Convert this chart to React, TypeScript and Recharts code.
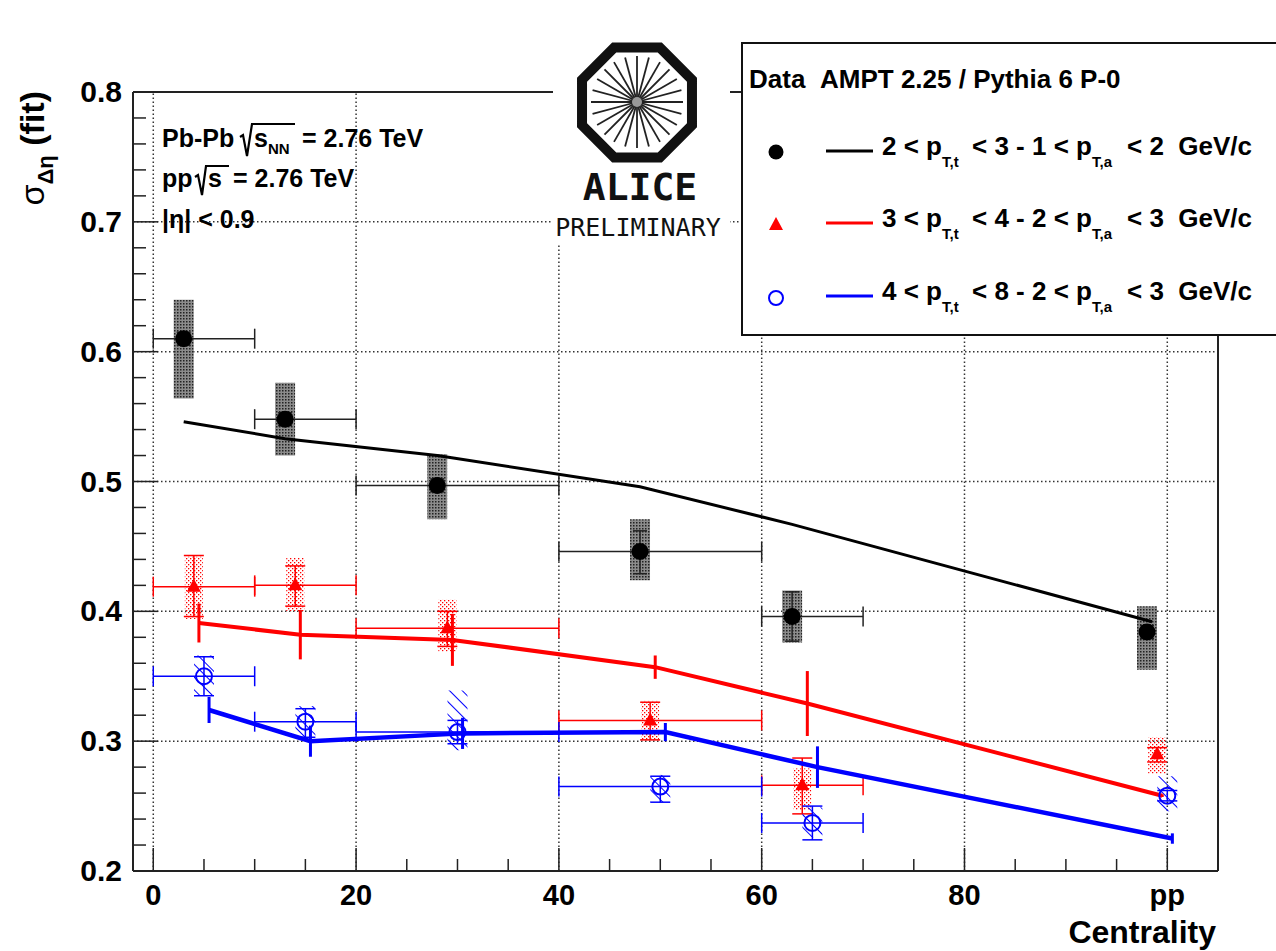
import React from 'react'
import { ComposedChart, Scatter, Line, XAxis, YAxis, ErrorBar, ReferenceLine } from 'recharts'

// centrality bins (pp has no bin)
const binLow = [0, 10, 20, 40, 60, null]
const binHigh = [10, 20, 40, 60, 70, null]

// data: 2 < pT,t < 3 - 1 < pT,a < 2 (black)
const blackX = [3, 13, 28, 48, 63, 98]
const blackY = [0.61, 0.548, 0.497, 0.446, 0.396, 0.384]
const blackStatLow = [0.605, 0.543, 0.492, 0.429, 0.377, 0.379]
const blackStatHigh = [0.615, 0.553, 0.502, 0.462, 0.415, 0.389]
const blackSysLow = [0.564, 0.52, 0.471, 0.424, 0.376, 0.355]
const blackSysHigh = [0.64, 0.576, 0.521, 0.471, 0.416, 0.404]

// data: 3 < pT,t < 4 - 2 < pT,a < 3 (red)
const redX = [4, 14, 29, 49, 64, 99]
const redY = [0.419, 0.42, 0.387, 0.316, 0.266, 0.29]
const redStatLow = [0.396, 0.404, 0.373, 0.301, 0.244, 0.284]
const redStatHigh = [0.443, 0.435, 0.4, 0.33, 0.287, 0.295]
const redSysLow = [0.394, 0.4, 0.369, 0.301, 0.247, 0.275]
const redSysHigh = [0.442, 0.441, 0.409, 0.331, 0.279, 0.303]

// data: 4 < pT,t < 8 - 2 < pT,a < 3 (blue)
const blueX = [5, 15, 30, 50, 65, 100]
const blueY = [0.35, 0.315, 0.307, 0.265, 0.237, 0.258]
const blueStatLow = [0.335, 0.303, 0.298, 0.253, 0.224, 0.254]
const blueStatHigh = [0.365, 0.325, 0.316, 0.273, 0.25, 0.262]
const blueSysLow = [0.335, 0.303, 0.293, 0.253, 0.226, 0.246]
const blueSysHigh = [0.366, 0.327, 0.339, 0.274, 0.249, 0.273]

// AMPT 2.25 / Pythia 6 P-0 model curves
const ampBlackX = [3, 13, 28, 48, 63, 98.5]
const ampBlackY = [0.546, 0.533, 0.52, 0.496, 0.467, 0.392]
const ampRedX = [4.5, 14.5, 29.5, 49.5, 64.5, 99.5]
const ampRedY = [0.391, 0.382, 0.378, 0.357, 0.329, 0.258]
const ampRedErr = [0.015, 0.019, 0.02, 0.009, 0.025, 0.001]
const ampBlueX = [5.5, 15.5, 30.5, 50.5, 65.5, 100.5]
const ampBlueY = [0.324, 0.3, 0.306, 0.307, 0.28, 0.225]
const ampBlueErr = [0.01, 0.012, 0.012, 0.007, 0.016, 0.004]

// axes
const xMajor = [0, 20, 40, 60, 80, 100]
const xLabels = ['0', '20', '40', '60', '80', 'pp']
const yMajor = [0.2, 0.3, 0.4, 0.5, 0.6, 0.7, 0.8]
const yLabels = ['0.2', '0.3', '0.4', '0.5', '0.6', '0.7', '0.8']
const yGrid = [0.3, 0.4, 0.5, 0.6, 0.7]

const xTicks: number[] = []
for (let v = 0; v <= 100; v += 5) xTicks.push(v)
const yTicks: number[] = []
for (let i = 0; i <= 30; i++) yTicks.push(Math.round((0.2 + i * 0.02) * 1000) / 1000)

const W = 1276
const H = 951
const FONT = '"Liberation Sans", Arial, Helvetica, sans-serif'
const MONO = '"DejaVu Sans Mono", monospace'
const RED = '#ff0000'
const BLUE = '#0000ff'

function makeRows(xs: number[], ys: number[], sLo: number[], sHi: number[], sysLo: number[], sysHi: number[]) {
  return xs.map((x, i) => ({
    x,
    y: ys[i],
    bin: binLow[i] == null ? null : [x - (binLow[i] as number), (binHigh[i] as number) - x],
    stat: [ys[i] - sLo[i], sHi[i] - ys[i]],
    sys: [ys[i] - sysLo[i], sysHi[i] - ys[i]],
  }))
}

const blackRows = makeRows(blackX, blackY, blackStatLow, blackStatHigh, blackSysLow, blackSysHigh)
const redRows = makeRows(redX, redY, redStatLow, redStatHigh, redSysLow, redSysHigh)
const blueRows = makeRows(blueX, blueY, blueStatLow, blueStatHigh, blueSysLow, blueSysHigh)

const ampBlack = ampBlackX.map((x, i) => ({ x, y: ampBlackY[i] }))
const ampRed = ampRedX.map((x, i) => ({ x, y: ampRedY[i], err: ampRedErr[i] }))
const ampBlue = ampBlueX.map((x, i) => ({ x, y: ampBlueY[i], err: ampBlueErr[i] }))

function XTick(props: any) {
  const { x, y, payload } = props
  const idx = xMajor.indexOf(payload.value)
  const major = idx >= 0
  return (
    <g>
      <line x1={x} x2={x} y1={y} y2={y - (major ? 23 : 12)} stroke="#222" strokeWidth={1.5} />
      {major && (
        <text x={x} y={y + 34} textAnchor="middle" fontFamily={FONT} fontWeight="bold" fontSize={29} fill="#000">
          {xLabels[idx]}
        </text>
      )}
    </g>
  )
}

function YTick(props: any) {
  const { x, y, payload } = props
  const idx = yMajor.findIndex((m) => Math.abs(m - payload.value) < 1e-6)
  const major = idx >= 0
  return (
    <g>
      <line x1={x} x2={x + (major ? 25 : 13)} y1={y} y2={y} stroke="#222" strokeWidth={1.5} />
      {major && (
        <text x={x - 11} y={y + 10} textAnchor="end" fontFamily={FONT} fontWeight="bold" fontSize={30} fill="#000">
          {yLabels[idx]}
        </text>
      )}
    </g>
  )
}

const dotBlack = (p: any) => <circle cx={p.cx} cy={p.cy} r={8.5} fill="#000" />
const dotRed = (p: any) => (
  <polygon points={`${p.cx},${p.cy - 8} ${p.cx - 7},${p.cy + 5} ${p.cx + 7},${p.cy + 5}`} fill={RED} />
)
const dotBlue = (p: any) => <circle cx={p.cx} cy={p.cy} r={8} fill="none" stroke={BLUE} strokeWidth={2} />

function Sub({ children, dy = 9, size = 15 }: any) {
  return (
    <tspan fontSize={size} dy={dy}>
      {children}
    </tspan>
  )
}

function LegendRow({ y, marker, color, a, b, c, d }: any) {
  return (
    <g>
      {marker}
      <line x1={826} x2={873} y1={y - 4} y2={y - 4} stroke={color} strokeWidth={3} />
      <text y={y} fontFamily={FONT} fontWeight="bold" fontSize={26} fill="#000">
        <tspan x={882}>{a} &lt; p</tspan>
        <Sub dy={12}>T,t</Sub>
        <tspan x={972} dy={-12}>&lt; {b} - {c} &lt; p</tspan>
        <Sub dy={12}>T,a</Sub>
        <tspan x={1127} dy={-12}>&lt; {d}{'\u00a0\u00a0'}GeV/c</tspan>
      </text>
    </g>
  )
}

function Overlay() {
  const spokes = []
  for (let i = 0; i < 24; i++) {
    const a = (i * Math.PI) / 12
    spokes.push(
      <line key={i} x1={637} y1={102} x2={637 + 46 * Math.cos(a)} y2={102 + 46 * Math.sin(a)} stroke="#222" strokeWidth={1.8} />
    )
  }
  const oct = []
  for (let i = 0; i < 8; i++) {
    const a = ((i + 0.5) * Math.PI) / 4
    oct.push(`${637 + 59.5 * Math.cos(a)},${102.5 + 59.5 * Math.sin(a)}`)
  }
  return (
    <svg width={W} height={H} style={{ position: 'absolute', left: 0, top: 0, pointerEvents: 'none' }}>
      {/* ALICE logo */}
      <rect x={553} y={38} width={177} height={206} fill="#fff" />
      <polygon points={oct.join(' ')} fill="none" stroke="#111" strokeWidth={10} />
      {spokes}
      <circle cx={637} cy={102} r={5} fill="#999" />
      <text x={640} y={200} textAnchor="middle" fontFamily={MONO} fontWeight="bold" fontSize={38} fill="#111">
        ALICE
      </text>
      <text x={638} y={236} textAnchor="middle" fontFamily={MONO} fontSize={25} fill="#111">
        PRELIMINARY
      </text>

      {/* legend */}
      <rect x={742} y={43} width={600} height={292} fill="#fff" stroke="#111" strokeWidth={2} />
      <text x={749} y={88} fontFamily={FONT} fontWeight="bold" fontSize={26} fill="#000">
        Data
      </text>
      <text x={820} y={88} fontFamily={FONT} fontWeight="bold" fontSize={26} fill="#000">
        AMPT 2.25 / Pythia 6 P-0
      </text>
      <LegendRow y={155} color="#000" marker={<circle cx={776} cy={152} r={7.5} fill="#000" />} a="2" b="3" c="1" d="2" />
      <LegendRow
        y={227}
        color={RED}
        marker={<polygon points="776,217 769,230 783,230" fill={RED} />}
        a="3"
        b="4"
        c="2"
        d="3"
      />
      <LegendRow
        y={300}
        color={BLUE}
        marker={<circle cx={776} cy={298} r={7} fill="none" stroke={BLUE} strokeWidth={2} />}
        a="4"
        b="8"
        c="2"
        d="3"
      />

      {/* system labels */}
      <g fontFamily={FONT} fontWeight="bold" fontSize={25} fill="#000">
        <text x={162} y={147}>Pb-Pb</text>
        <path d="M240 137 L243 135 L247 156 L252 124 L295 124" fill="none" stroke="#000" strokeWidth={2.2} />
        <text x={254} y={147}>
          s<Sub dy={7} size={15}>NN</Sub>
        </text>
        <text x={302} y={147}>= 2.76 TeV</text>

        <text x={162} y={187}>pp</text>
        <path d="M195 177 L198 175 L202 195 L206 166 L229 166" fill="none" stroke="#000" strokeWidth={2.2} />
        <text x={208} y={187}>s</text>
        <text x={233} y={187}>= 2.76 TeV</text>

        <text x={162} y={228}>|η| &lt; 0.9</text>
      </g>

      {/* axis titles */}
      <text
        transform="translate(44,91) rotate(-90)"
        textAnchor="end"
        fontFamily={FONT}
        fontWeight="bold"
        fontSize={34}
        fill="#000"
      >
        <tspan fontWeight="normal">σ</tspan>
        <tspan fontSize={22} dy={9}>Δη</tspan>
        <tspan dy={-9}> (fit)</tspan>
      </text>
      <text x={1216} y={943} textAnchor="end" fontFamily={FONT} fontWeight="bold" fontSize={32} fill="#000">
        Centrality
      </text>
    </svg>
  )
}

export default function App() {
  return (
    <div style={{ position: 'absolute', left: 0, top: 0, width: W, height: H, background: '#fff' }}>
      <ComposedChart width={W} height={H} margin={{ top: 92, right: 58, bottom: 0, left: 0 }}>
        <defs>
          <pattern id="stipple" width={3} height={3} patternUnits="userSpaceOnUse">
            <rect x={0} y={0} width={3} height={3} fill="#8c8c8c" />
            <rect x={0} y={0} width={1.5} height={1.5} fill="#222" />
          </pattern>
          <pattern id="redDots" width={4} height={4} patternUnits="userSpaceOnUse">
            <rect x={0} y={0} width={1.3} height={1.3} fill={RED} />
            <rect x={2} y={2} width={1.3} height={1.3} fill={RED} />
          </pattern>
          <pattern id="blueHatch" width={9} height={9} patternUnits="userSpaceOnUse" patternTransform="rotate(-45)">
            <line x1={0} y1={0} x2={0} y2={9} stroke={BLUE} strokeWidth={2} />
          </pattern>
        </defs>
        <XAxis
          type="number"
          dataKey="x"
          domain={[-2, 105]}
          ticks={xTicks}
          interval={0}
          tickSize={0}
          tickMargin={0}
          tick={XTick}
          tickLine={false}
          axisLine={{ stroke: '#222', strokeWidth: 2 }}
          height={80}
          allowDataOverflow
        />
        <YAxis
          type="number"
          dataKey="y"
          domain={[0.2, 0.8]}
          ticks={yTicks}
          interval={0}
          tickSize={0}
          tickMargin={0}
          tick={YTick}
          tickLine={false}
          axisLine={{ stroke: '#222', strokeWidth: 2 }}
          width={133}
          allowDataOverflow
        />
        {xMajor.map((v) => (
          <ReferenceLine key={'gx' + v} x={v} stroke="#333" strokeWidth={1.5} strokeDasharray="1.5 2.5" />
        ))}
        {yGrid.map((v) => (
          <ReferenceLine key={'gy' + v} y={v} stroke="#333" strokeWidth={1.5} strokeDasharray="1.5 2.5" />
        ))}
        <ReferenceLine x={105} stroke="#222" strokeWidth={2} />
        <ReferenceLine y={0.8} stroke="#222" strokeWidth={2} />

        <Scatter data={blackRows} shape={dotBlack} isAnimationActive={false}>
          <ErrorBar dataKey="sys" direction="y" width={0} stroke="url(#stipple)" strokeWidth={20} isAnimationActive={false} />
          <ErrorBar dataKey="bin" direction="x" width={10} stroke="#222" strokeWidth={1.5} isAnimationActive={false} />
          <ErrorBar dataKey="stat" direction="y" width={7} stroke="#222" strokeWidth={1.5} isAnimationActive={false} />
        </Scatter>
        <Scatter data={redRows} shape={dotRed} isAnimationActive={false}>
          <ErrorBar dataKey="sys" direction="y" width={0} stroke="url(#redDots)" strokeWidth={18} isAnimationActive={false} />
          <ErrorBar dataKey="bin" direction="x" width={10} stroke={RED} strokeWidth={1.5} isAnimationActive={false} />
          <ErrorBar dataKey="stat" direction="y" width={10} stroke={RED} strokeWidth={1.5} isAnimationActive={false} />
        </Scatter>
        <Scatter data={blueRows} shape={dotBlue} isAnimationActive={false}>
          <ErrorBar dataKey="sys" direction="y" width={0} stroke="url(#blueHatch)" strokeWidth={20} isAnimationActive={false} />
          <ErrorBar dataKey="bin" direction="x" width={10} stroke={BLUE} strokeWidth={1.5} isAnimationActive={false} />
          <ErrorBar dataKey="stat" direction="y" width={10} stroke={BLUE} strokeWidth={1.5} isAnimationActive={false} />
        </Scatter>

        <Line data={ampBlack} dataKey="y" type="linear" stroke="#000" strokeWidth={3} dot={false} isAnimationActive={false} />
        <Line data={ampRed} dataKey="y" type="linear" stroke={RED} strokeWidth={4} dot={false} isAnimationActive={false}>
          <ErrorBar dataKey="err" direction="y" width={0} stroke={RED} strokeWidth={3} isAnimationActive={false} />
        </Line>
        <Line data={ampBlue} dataKey="y" type="linear" stroke={BLUE} strokeWidth={4.5} dot={false} isAnimationActive={false}>
          <ErrorBar dataKey="err" direction="y" width={0} stroke={BLUE} strokeWidth={3} isAnimationActive={false} />
        </Line>
      </ComposedChart>
      <Overlay />
    </div>
  )
}
